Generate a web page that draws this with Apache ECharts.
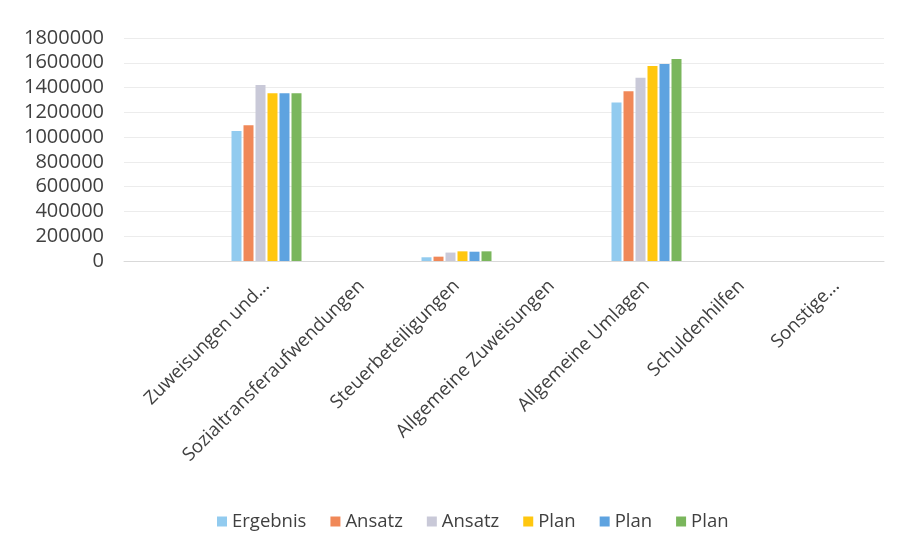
<!DOCTYPE html>
<html>
<head>
<meta charset="utf-8">
<script src="https://cdn.jsdelivr.net/npm/echarts@6/dist/echarts.min.js"></script>
<style>
  html, body { margin: 0; padding: 0; background: #fff; }
  #chart { width: 901px; height: 551px; }
</style>
</head>
<body>
<div id="chart"></div>
<script>
// Kategorien (erste Kategorie ist leer, wie im Original)
const categories = ['', 'Zuweisungen und...', 'Sozialtransferaufwendungen', 'Steuerbeteiligungen',
  'Allgemeine Zuweisungen', 'Allgemeine Umlagen', 'Schuldenhilfen', 'Sonstige...'];

const seriesNames = ['Ergebnis', 'Ansatz 1', 'Ansatz 2', 'Plan 1', 'Plan 2', 'Plan 3'];

const ergebnis = [null, 1050000, 0, 30000, 0, 1280000, 0, 0];
const ansatz1  = [null, 1095000, 0, 35000, 0, 1370000, 0, 0];
const ansatz2  = [null, 1420000, 0, 68000, 0, 1480000, 0, 0];
const plan1    = [null, 1355000, 0, 78000, 0, 1575000, 0, 0];
const plan2    = [null, 1355000, 0, 75000, 0, 1590000, 0, 0];
const plan3    = [null, 1355000, 0, 78000, 0, 1630000, 0, 0];

const colors = ['#92cbef', '#f08858', '#c9c9d8', '#ffc70f', '#5ea3e0', '#7ab65c'];

const chart = echarts.init(document.getElementById('chart'));
const font = "'Open Sans', 'Noto Sans', sans-serif";

const allData = [ergebnis, ansatz1, ansatz2, plan1, plan2, plan3];

chart.setOption({
  animation: false,
  color: colors,
  textStyle: { fontFamily: font },
  grid: { left: 124, right: 17, top: 38, bottom: 290 },
  legend: {
    bottom: 15,
    left: 212,
    itemWidth: 10,
    itemHeight: 10,
    itemGap: 24,
    icon: 'rect',
    textStyle: { fontSize: 18.5, color: '#404040', fontFamily: font },
    formatter: name => name.replace(/ \d$/, '')
  },
  xAxis: {
    type: 'category',
    data: categories,
    axisLine: { lineStyle: { color: '#d9d9d9' } },
    axisTick: { show: false },
    axisLabel: {
      rotate: 45,
      interval: 0,
      margin: 22,
      fontSize: 18.5,
      color: '#404040',
      fontFamily: font
    }
  },
  yAxis: {
    type: 'value',
    min: 0,
    max: 1800000,
    interval: 200000,
    axisLine: { show: false },
    axisTick: { show: false },
    splitLine: { lineStyle: { color: '#ececec' } },
    axisLabel: {
      fontSize: 20,
      color: '#404040',
      margin: 20,
      fontFamily: font,
      formatter: v => String(v)
    }
  },
  series: seriesNames.map((name, i) => ({
    name: name,
    type: 'bar',
    data: allData[i],
    barWidth: 10,
    barGap: '20%'
  }))
});
</script>
</body>
</html>
